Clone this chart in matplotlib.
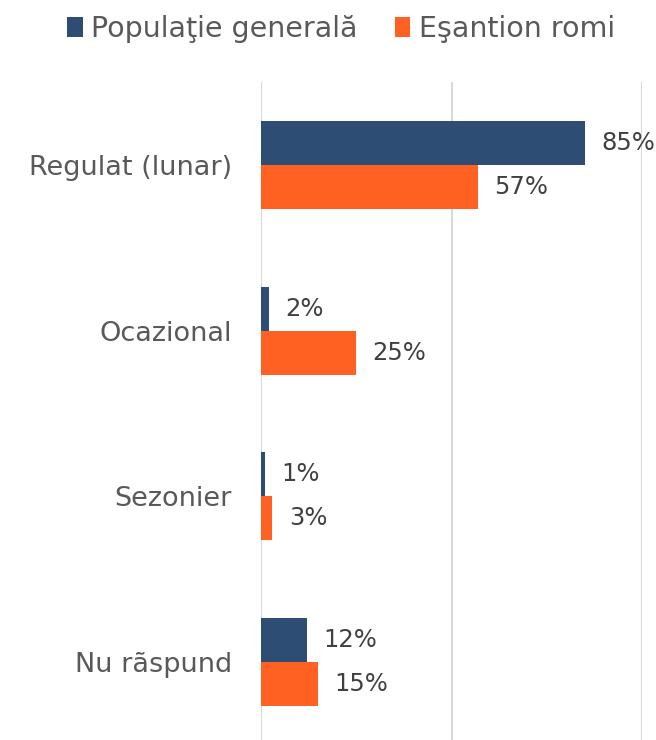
import matplotlib.pyplot as plt
import numpy as np

plt.rcParams['font.family'] = ['DejaVu Sans Condensed', 'DejaVu Sans']

categories = ['Regulat (lunar)', 'Ocazional', 'Sezonier', 'Nu rãspund']
populatie = [85, 2, 1, 12]
romi = [57, 25, 3, 15]
series_names = ['Populaţie generală', 'Eşantion romi']

blue = '#2E4D75'
orange = '#FF6122'

fig = plt.figure(figsize=(6.56, 7.40), dpi=100)
ax = fig.add_axes([261/656, -5/740, 381/656, 663/740])

y = np.arange(len(categories))
h = 0.265
b1 = ax.barh(y - h/2, populatie, height=h, color=blue, label=series_names[0])
b2 = ax.barh(y + h/2, romi, height=h, color=orange, label=series_names[1])

for bars, vals in ((b1, populatie), (b2, romi)):
    for bar, v in zip(bars, vals):
        ax.text(bar.get_width() + 4.3, bar.get_y() + bar.get_height()/2, f'{v}%',
                va='center', ha='left', fontsize=17.5, color='#404040')

ax.set_xlim(0, 100)
ax.set_ylim(len(categories) - 0.5, -0.5)
ax.set_yticks(y)
ax.set_yticklabels(categories, fontsize=19.5, color='#595959')
ax.set_xticks([0, 50, 100])
ax.xaxis.grid(True, color='#D9D9D9', linewidth=1.5)
ax.set_axisbelow(True)
ax.tick_params(axis='x', length=0, labelbottom=False)
ax.tick_params(axis='y', length=0, pad=21)
for s in ax.spines.values():
    s.set_visible(False)

fig.legend(loc='upper center', bbox_to_anchor=(0.52, 1.015), ncol=2, frameon=False,
           fontsize=20.5, labelcolor='#595959', handlelength=0.55, handleheight=0.7,
           handletextpad=0.3, columnspacing=1.3)

fig.savefig('out.png', dpi=100)
